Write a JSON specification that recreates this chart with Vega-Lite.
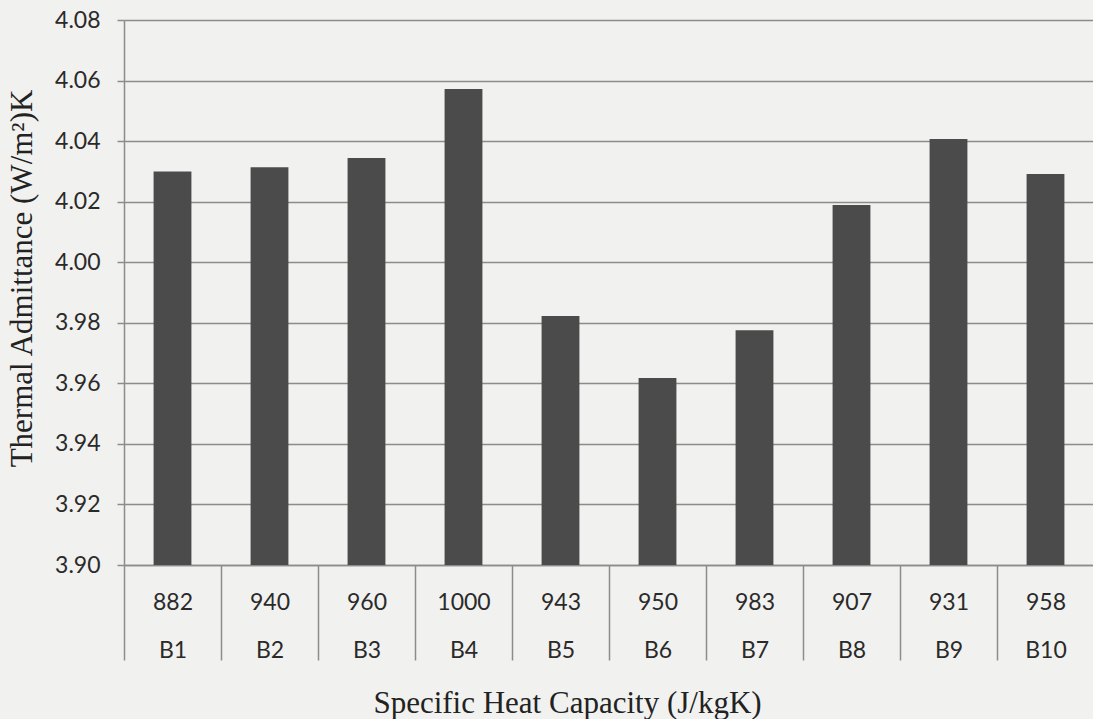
{
  "$schema": "https://vega.github.io/schema/vega-lite/v6.json",
  "autosize": {"type": "none"},
  "padding": {"left": 124, "top": 20, "right": 0, "bottom": 154},
  "width": 970,
  "height": 545,
  "background": "#f1f1ef",
  "config": {"view": {"stroke": null}},
  "data": {
    "values": [
      {"sample": "B1", "capacity": "882", "admittance": 4.030},
      {"sample": "B2", "capacity": "940", "admittance": 4.0314},
      {"sample": "B3", "capacity": "960", "admittance": 4.0344},
      {"sample": "B4", "capacity": "1000", "admittance": 4.0572},
      {"sample": "B5", "capacity": "943", "admittance": 3.9822},
      {"sample": "B6", "capacity": "950", "admittance": 3.9618},
      {"sample": "B7", "capacity": "983", "admittance": 3.9775},
      {"sample": "B8", "capacity": "907", "admittance": 4.0189},
      {"sample": "B9", "capacity": "931", "admittance": 4.0407},
      {"sample": "B10", "capacity": "958", "admittance": 4.0291}
    ]
  },
  "transform": [
    {"calculate": "datum.capacity + '|' + datum.sample", "as": "group"}
  ],
  "mark": {"type": "bar", "color": "#4b4b4b", "clip": true, "width": {"band": 0.39}},
  "encoding": {
    "x": {
      "field": "group",
      "type": "nominal",
      "sort": null,
      "scale": {"paddingInner": 0, "paddingOuter": 0},
      "axis": {
        "title": "Specific Heat Capacity (J/kgK)",
        "titleFont": "Liberation Serif",
        "titleFontSize": 31,
        "titleFontWeight": "normal",
        "titleColor": "#222222",
        "titleX": 443,
        "titleY": 138,
        "titleBaseline": "middle",
        "labelExpr": "datum.value ? split(datum.value, '|') : ''",
        "labelAngle": 0,
        "labelFont": "Lato",
        "labelFontSize": 23,
        "labelColor": "#2a2a2a",
        "labelLineHeight": 48,
        "labelBaseline": "middle",
        "labelPadding": -58,
        "labelOverlap": false,
        "labelFlush": false,
        "tickBand": "extent",
        "tickSize": 95,
        "tickColor": "#8c8c8c",
        "tickWidth": 1.5,
        "domainColor": "#8c8c8c",
        "domainWidth": 1.5
      }
    },
    "y": {
      "field": "admittance",
      "type": "quantitative",
      "scale": {"domain": [3.9, 4.08], "nice": false, "zero": false},
      "axis": {
        "title": "Thermal Admittance (W/m²)K",
        "titleFont": "Liberation Serif",
        "titleFontSize": 31,
        "titleFontWeight": "normal",
        "titleColor": "#222222",
        "titleX": -102,
        "titleY": 258,
        "titleBaseline": "middle",
        "titleAngle": -90,
        "values": [3.9, 3.92, 3.94, 3.96, 3.98, 4.0, 4.02, 4.04, 4.06, 4.08],
        "format": ".2f",
        "labelFont": "Lato",
        "labelFontSize": 23,
        "labelColor": "#2a2a2a",
        "labelPadding": 17,
        "grid": true,
        "gridColor": "#8c8c8c",
        "gridWidth": 1.5,
        "tickSize": 7,
        "tickColor": "#8c8c8c",
        "tickWidth": 1.5,
        "domainColor": "#8c8c8c",
        "domainWidth": 1.5
      }
    }
  }
}
